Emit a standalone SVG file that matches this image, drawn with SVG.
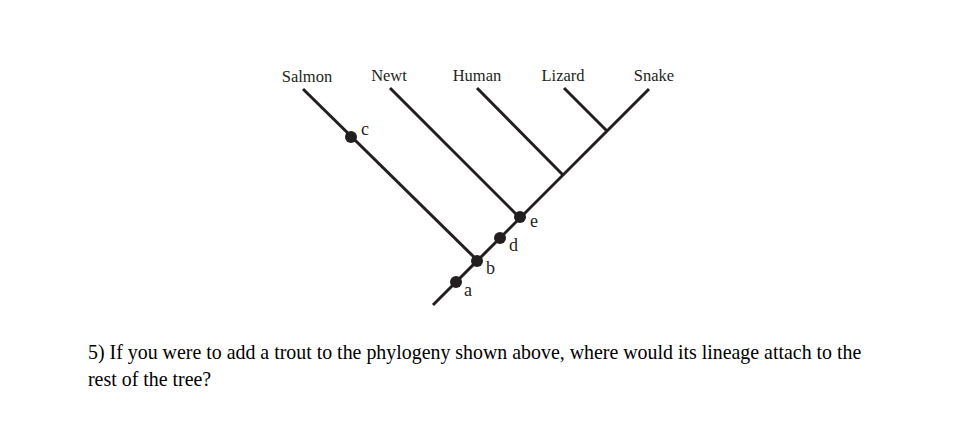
<svg xmlns="http://www.w3.org/2000/svg" width="955" height="421" viewBox="0 0 955 421">
<style>
.br{stroke:#231f20;stroke-width:3;stroke-linecap:butt;fill:none}
.dot{fill:#231f20}
.lb{font-family:"Liberation Serif",serif;font-size:16.5px;fill:#231f20}
.lt{font-family:"Liberation Serif",serif;font-size:18px;fill:#231f20}
.q{font-family:"Liberation Serif",serif;font-size:19.9px;fill:#000}
</style>
<rect width="955" height="421" fill="#fff"/>
<g id="connectors">
<line class="br" x1="433" y1="305" x2="649" y2="89"/>
<line class="br" x1="303" y1="89" x2="478" y2="261"/>
<line class="br" x1="390" y1="88" x2="520" y2="218"/>
<line class="br" x1="477" y1="88" x2="563" y2="175"/>
<line class="br" x1="564" y1="88" x2="607" y2="131"/>
</g>
<g id="tips">
<text class="lb" x="307" y="82" text-anchor="middle">Salmon</text>
<text class="lb" x="389" y="81" text-anchor="middle">Newt</text>
<text class="lb" x="477" y="81" text-anchor="middle">Human</text>
<text class="lb" x="563" y="81" text-anchor="middle">Lizard</text>
<text class="lb" x="654" y="81" text-anchor="middle">Snake</text>
</g>
<g id="node-c"><circle class="dot" cx="351" cy="137" r="6"/><text class="lt" x="361" y="135">c</text></g>
<g id="node-a"><circle class="dot" cx="456" cy="282" r="6"/><text class="lt" x="464" y="296">a</text></g>
<g id="node-b"><circle class="dot" cx="477" cy="261" r="6"/><text class="lt" x="486" y="274">b</text></g>
<g id="node-d"><circle class="dot" cx="500" cy="238" r="6"/><text class="lt" x="509" y="251">d</text></g>
<g id="node-e"><circle class="dot" cx="520" cy="217" r="6"/><text class="lt" x="530" y="227">e</text></g>
<g id="question">
<text class="q" x="88" y="359">5) If you were to add a trout to the phylogeny shown above, where would its lineage attach to the</text>
<text class="q" x="88" y="386">rest of the tree?</text>
</g>
</svg>
